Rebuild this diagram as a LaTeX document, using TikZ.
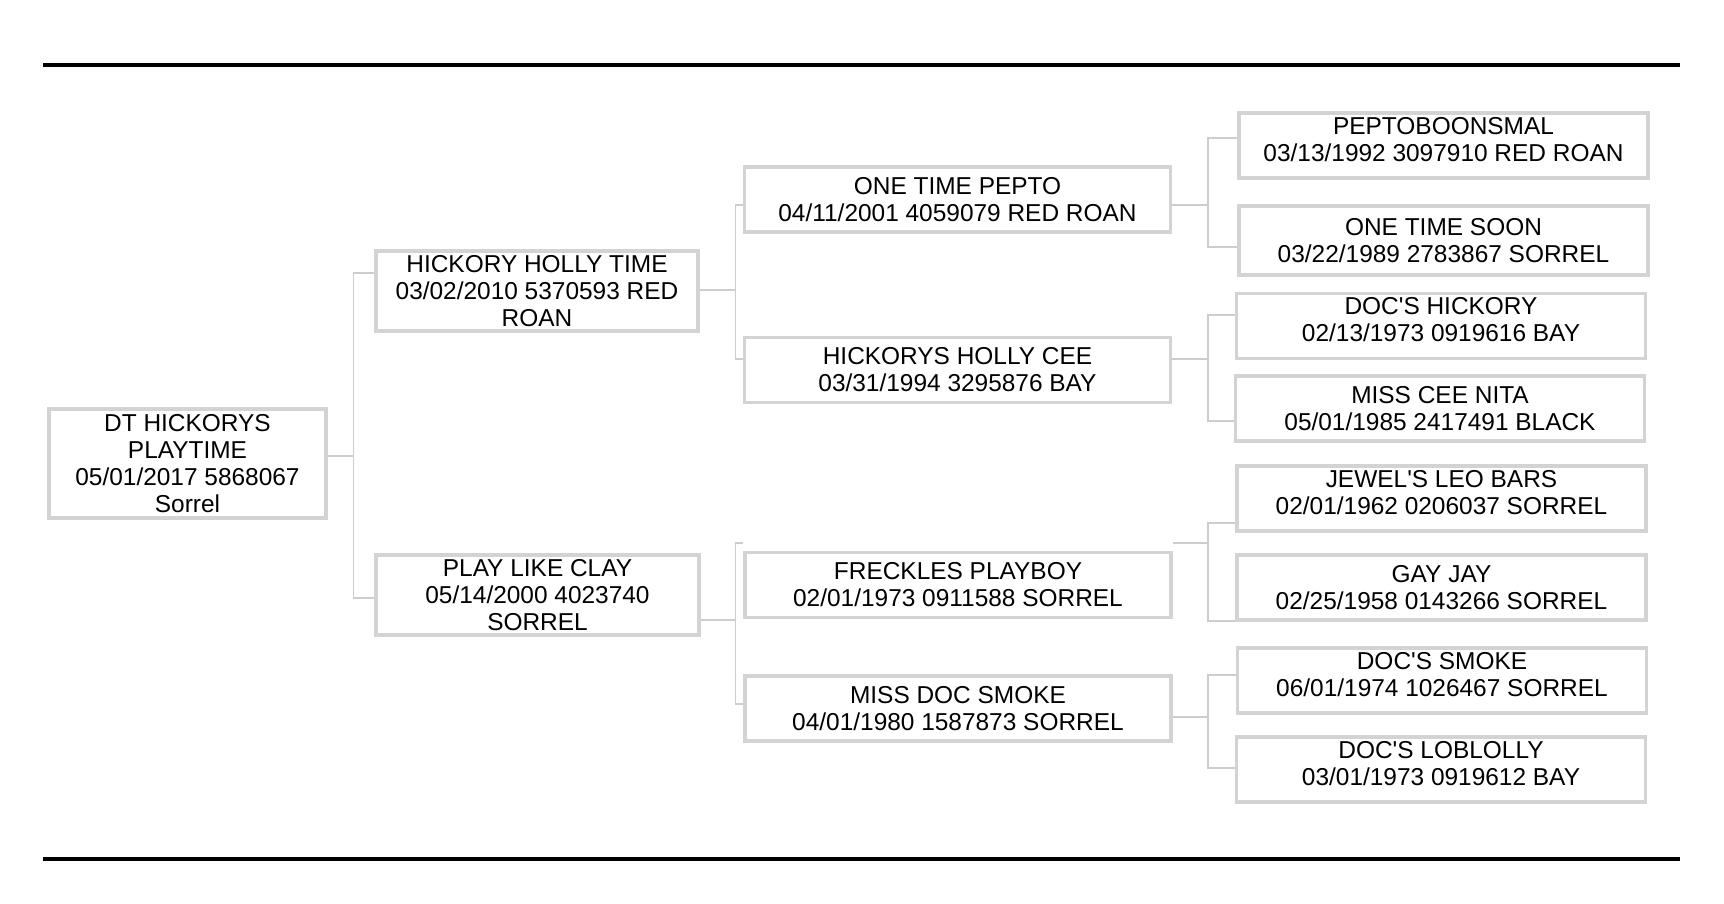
\documentclass[tikz,border=0pt]{standalone}
\usepackage{fontspec}
\setmainfont{Liberation Sans}
\definecolor{boxgray}{RGB}{211,211,211}
\definecolor{linkgray}{RGB}{205,205,205}
\begin{document}
\begin{tikzpicture}[x=0.01cm,y=-0.01cm,
    horse/.style={draw=boxgray,line width=1.05pt,inner sep=0pt,align=center,
      font=\fontsize{6.95}{7.7}\selectfont},
    gen3/.style={horse,minimum width=4.26cm,minimum height=0.65cm},
    gen4/.style={horse,minimum width=4.09cm,minimum height=0.65cm},
    raised/.style={text depth=3.5pt},
    link/.style={draw=linkgray,line width=0.3pt},
    rule/.style={line width=1.15pt}]
    \useasboundingbox (0,0) rectangle (1724,904);
    \draw[rule] (43,65) -- (1680,65);
    \draw[rule] (43,859) -- (1680,859);
    % the horse and its parents
    \node[horse,minimum width=2.77cm,minimum height=1.09cm] (horse) at (187.5,463.5) {DT HICKORYS\\PLAYTIME\\05/01/2017 5868067\\Sorrel};
    \node[horse,minimum width=3.22cm,minimum height=0.80cm] (s) at (537,291) {HICKORY HOLLY TIME\\03/02/2010 5370593 RED\\ROAN};
    \node[horse,minimum width=3.23cm,minimum height=0.80cm] (d) at (537.5,595) {PLAY LIKE CLAY\\05/14/2000 4023740\\SORREL};
    % grandparents
    \node[gen3] (ss) at (957.5,199.5) {ONE TIME PEPTO\\04/11/2001 4059079 RED ROAN};
    \node[gen3] (sd) at (957.5,370) {HICKORYS HOLLY CEE\\03/31/1994 3295876 BAY};
    \node[gen3] (ds) at (958,585) {FRECKLES PLAYBOY\\02/01/1973 0911588 SORREL};
    \node[gen3] (dd) at (958,708.5) {MISS DOC SMOKE\\04/01/1980 1587873 SORREL};
    % great-grandparents
    \node[gen4,raised] (sss) at (1443.5,145.5) {PEPTOBOONSMAL\\03/13/1992 3097910 RED ROAN};
    \node[gen4,minimum height=0.69cm] (ssd) at (1443.5,240.5) {ONE TIME SOON\\03/22/1989 2783867 SORREL};
    \node[gen4,raised] (sds) at (1441,326) {DOC\textquotesingle S HICKORY\\02/13/1973 0919616 BAY};
    \node[gen4] (sdd) at (1440,408.5) {MISS CEE NITA\\05/01/1985 2417491 BLACK};
    \node[gen4,raised] (dss) at (1441.5,498.5) {JEWEL\textquotesingle S LEO BARS\\02/01/1962 0206037 SORREL};
    \node[gen4] (dsd) at (1441.5,587.5) {GAY JAY\\02/25/1958 0143266 SORREL};
    \node[gen4,raised] (dds) at (1442,680.5) {DOC\textquotesingle S SMOKE\\06/01/1974 1026467 SORREL};
    \node[gen4,raised] (ddd) at (1441,769.5) {DOC\textquotesingle S LOBLOLLY\\03/01/1973 0919612 BAY};
    % connectors
    \draw[link] (horse.east |- 0,456) -- ++(26,0) |- (s.west |- 0,273);
    \draw[link] (horse.east |- 0,456) -- ++(26,0) |- (d.west |- 0,598);
    \draw[link] (s.east |- 0,290) -- ++(36,0) |- (ss.west |- 0,205);
    \draw[link] (s.east |- 0,290) -- ++(36,0) |- (sd.west |- 0,359);
    \draw[link] (d.east |- 0,620) -- ++(35,0) |- (ds.west |- 0,543);
    \draw[link] (d.east |- 0,620) -- ++(35,0) |- (dd.west |- 0,704);
    \draw[link] (ss.east |- 0,205) -- ++(35.5,0) |- (sss.west |- 0,138);
    \draw[link] (ss.east |- 0,205) -- ++(35.5,0) |- (ssd.west |- 0,247);
    \draw[link] (sd.east |- 0,359) -- ++(35.5,0) |- (sds.west |- 0,315);
    \draw[link] (sd.east |- 0,359) -- ++(35.5,0) |- (sdd.west |- 0,421);
    \draw[link] (ds.east |- 0,543) -- ++(35,0) |- (dss.west |- 0,523);
    \draw[link] (ds.east |- 0,543) -- ++(35,0) |- (dsd.west |- 0,621);
    \draw[link] (dd.east |- 0,717) -- ++(35,0) |- (dds.west |- 0,675);
    \draw[link] (dd.east |- 0,717) -- ++(35,0) |- (ddd.west |- 0,768);
\end{tikzpicture}
\end{document}
